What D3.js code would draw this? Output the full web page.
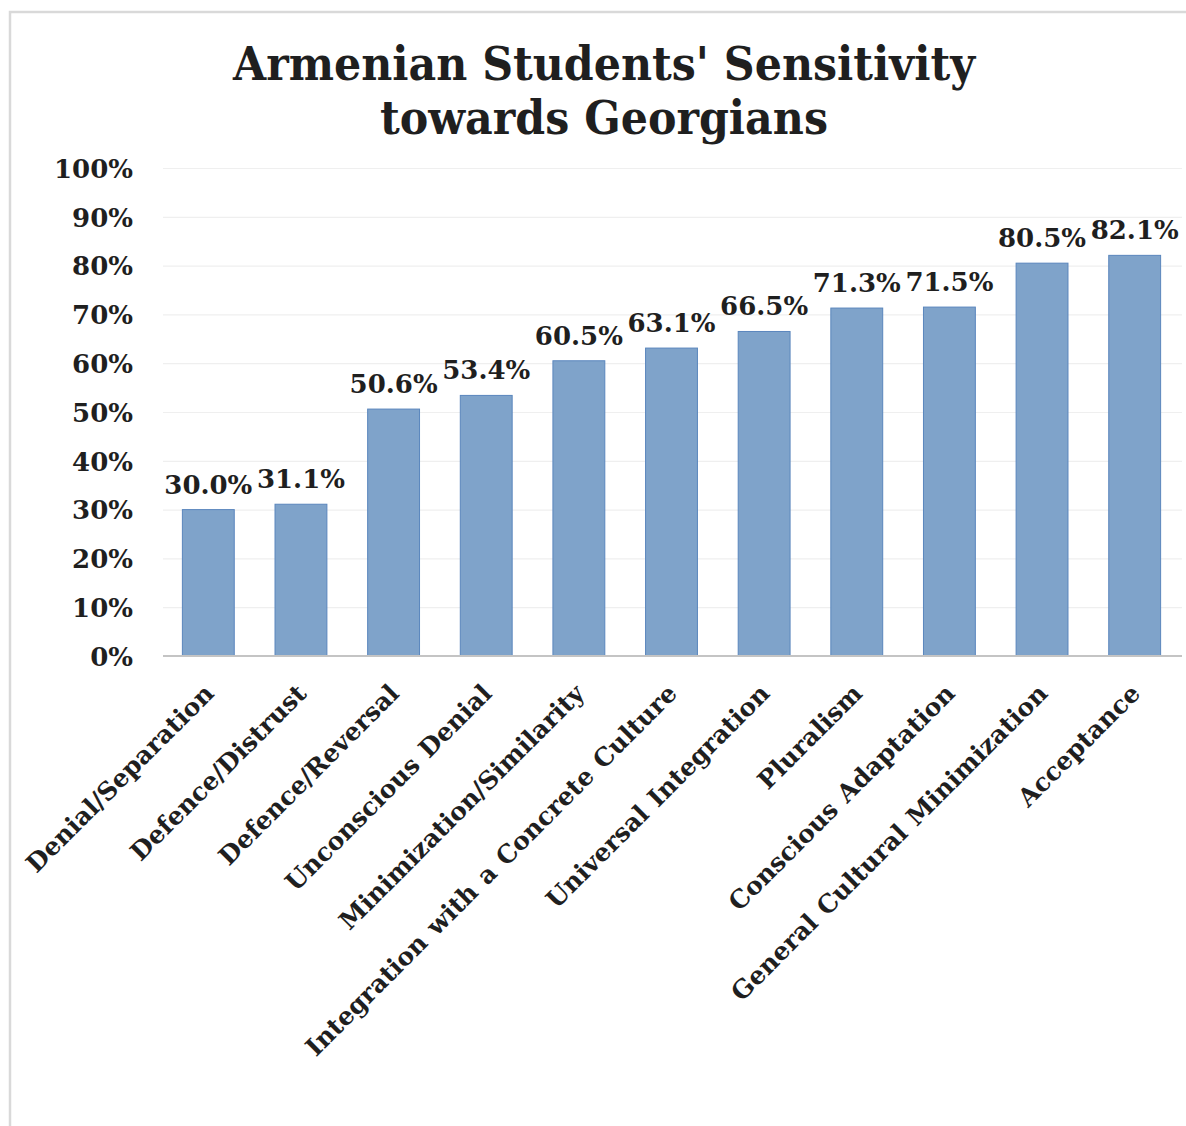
<!DOCTYPE html>
<html>
<head>
<meta charset="utf-8">
<script src="https://cdn.jsdelivr.net/npm/d3@7"></script>
<style>
  html, body { margin: 0; padding: 0; background: #ffffff; }
  svg { display: block; }
</style>
</head>
<body>
<script>
// Intercultural sensitivity stages and the share of students at each
const categories = [
  "Denial/Separation",
  "Defence/Distrust",
  "Defence/Reversal",
  "Unconscious Denial",
  "Minimization/Similarity",
  "Integration with a Concrete Culture",
  "Universal Integration",
  "Pluralism",
  "Conscious Adaptation",
  "General Cultural Minimization",
  "Acceptance"
];
const values = [30.0, 31.1, 50.6, 53.4, 60.5, 63.1, 66.5, 71.3, 71.5, 80.5, 82.1];
const yTicks = [0, 10, 20, 30, 40, 50, 60, 70, 80, 90, 100];
const titleLines = ["Armenian Students' Sensitivity", "towards Georgians"];

const W = 1186, H = 1126;
const FONT = "'DejaVu Serif', 'Liberation Serif', serif";

const svg = d3.select("body").append("svg")
  .attr("width", W).attr("height", H);

// chart frame
svg.append("rect")
  .attr("x", 10).attr("y", 12)
  .attr("width", W + 20).attr("height", H + 20)
  .attr("fill", "#ffffff")
  .attr("stroke", "#d9d9d9")
  .attr("stroke-width", 2.5);

const x = d3.scaleBand()
  .domain(categories)
  .range([162, 1181])
  .paddingInner(0.44)
  .paddingOuter(0.22);

const y = d3.scaleLinear()
  .domain([0, 100])
  .range([656, 168]);

// title
const titleWidths = [742, 448];
const titleBase = [80, 134];
svg.append("g").selectAll("text")
  .data(titleLines)
  .join("text")
  .attr("x", 604)
  .attr("y", (d, i) => titleBase[i])
  .attr("text-anchor", "middle")
  .attr("textLength", (d, i) => titleWidths[i])
  .attr("lengthAdjust", "spacingAndGlyphs")
  .attr("font-family", FONT)
  .attr("font-weight", "bold")
  .attr("font-size", 47)
  .attr("fill", "#1f1f1f")
  .text(d => d);

// horizontal gridlines and y labels
const yAxis = d3.axisLeft(y)
  .tickValues(yTicks)
  .tickSize(-(1182 - 163))
  .tickPadding(30)
  .tickFormat(d => d + "%");

const gy = svg.append("g")
  .attr("transform", "translate(163,0)")
  .call(yAxis);
gy.select(".domain").remove();
gy.selectAll(".tick line")
  .attr("stroke", "#efefef")
  .attr("stroke-width", 1.2);
gy.selectAll(".tick text")
  .attr("font-family", FONT)
  .attr("font-weight", "bold")
  .attr("font-size", 26)
  .attr("fill", "#1f1f1f")
  .attr("dy", "0.36em");

// bars
svg.append("g").selectAll("rect")
  .data(values)
  .join("rect")
  .attr("x", (d, i) => x(categories[i]))
  .attr("y", d => y(d))
  .attr("width", x.bandwidth())
  .attr("height", d => y(0) - y(d))
  .attr("fill", "#7fa3ca")
  .attr("stroke", "#5a86bd")
  .attr("stroke-width", 1);

// category axis
const xAxis = d3.axisBottom(x).tickSize(0).tickPadding(0);
const gx = svg.append("g")
  .attr("transform", `translate(0,${y(0)})`)
  .call(xAxis);
gx.select(".domain")
  .attr("stroke", "#c4c4c4")
  .attr("stroke-width", 2.2)
  .attr("d", "M163,0H1182");
gx.selectAll(".tick text")
  .attr("font-family", FONT)
  .attr("font-weight", "bold")
  .attr("font-size", 25)
  .attr("fill", "#1f1f1f")
  .attr("text-anchor", "end")
  .attr("dy", 0)
  .attr("y", 0)
  .attr("word-spacing", 2)
  .attr("transform", "translate(7,39) rotate(-45)");

// value labels
svg.append("g").selectAll("text")
  .data(values)
  .join("text")
  .attr("x", (d, i) => x(categories[i]) + x.bandwidth() / 2)
  .attr("y", d => y(d) - 16)
  .attr("text-anchor", "middle")
  .attr("font-family", FONT)
  .attr("font-weight", "bold")
  .attr("font-size", 26)
  .attr("fill", "#1f1f1f")
  .text(d => d.toFixed(1) + "%");
</script>
</body>
</html>
